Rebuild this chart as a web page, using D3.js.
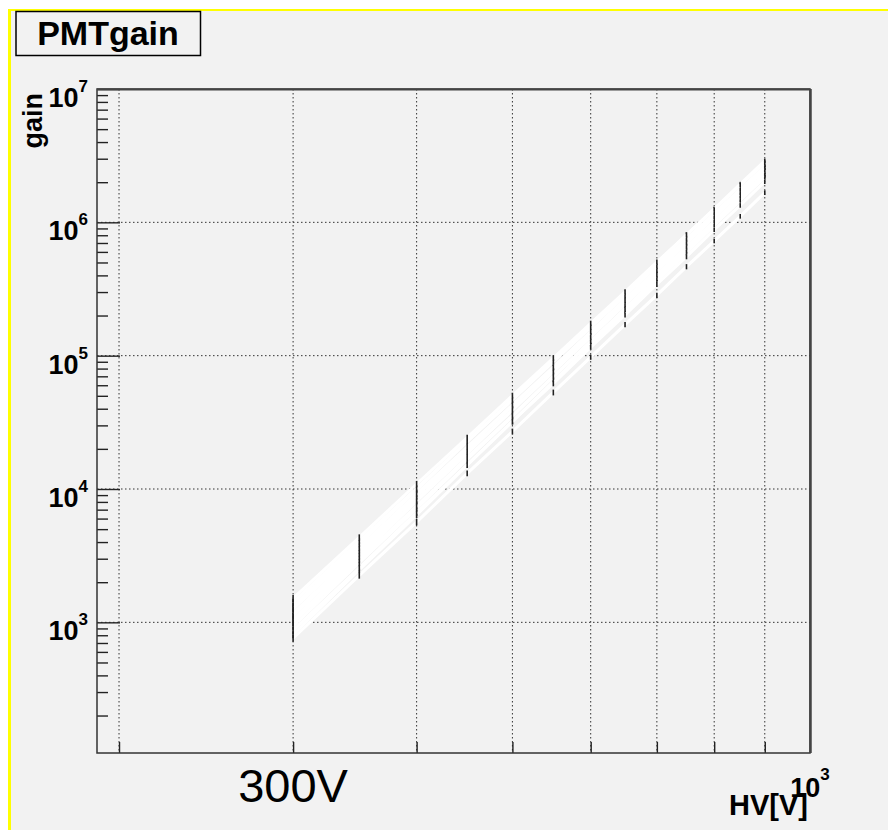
<!DOCTYPE html>
<html>
<head>
<meta charset="utf-8">
<script src="https://cdn.jsdelivr.net/npm/d3@7"></script>
<style>
	body { margin: 0; background: #ffffff; }
	svg { display: block; font-family: 'Liberation Sans', Arial, Helvetica, sans-serif; }
</style>
</head>
<body>
<div id="chart"></div>
<script>
// high voltage settings [V]
const hvValues = [300, 350, 400, 450, 500, 550, 600, 650, 700, 750, 800, 850, 900];

// measured gain per PMT, one value per hvValues entry
const pmt01 = [760, 2250, 5650, 13100, 27000, 53000, 97500, 171000, 284000, 465000, 725000, 1110000, 1670000];
const pmt02 = [810, 2480, 6400, 15100, 32000, 64000, 120000, 212000, 365000, 592000, 950000, 1460000, 2220000];
const pmt03 = [870, 2560, 6650, 15200, 32200, 62000, 116000, 202000, 343000, 553000, 880000, 1340000, 2020000];
const pmt04 = [935, 2800, 7150, 16700, 35000, 69500, 127000, 226000, 381000, 626000, 985000, 1520000, 2270000];
const pmt05 = [1000, 2950, 7450, 17200, 35500, 70000, 128000, 223000, 378000, 607000, 962000, 1470000, 2180000];
const pmt06 = [1050, 3110, 8100, 18500, 39500, 77000, 144000, 252000, 431000, 697000, 1110000, 1700000, 2560000];
const pmt07 = [1120, 3290, 8250, 18900, 39000, 76000, 138000, 243000, 404000, 655000, 1020000, 1565000, 2320000];
const pmt08 = [1170, 3460, 8800, 20000, 42200, 81500, 150000, 264000, 441000, 718000, 1125000, 1725000, 2580000];
const pmt09 = [1260, 3630, 9200, 20600, 42800, 82000, 151000, 260000, 437000, 700000, 1095000, 1660000, 2470000];
const pmt10 = [1320, 3880, 9850, 22600, 47000, 92000, 168000, 296000, 495000, 805000, 1260000, 1935000, 2890000];
const pmt11 = [1410, 4070, 10100, 22800, 46500, 90000, 163000, 282000, 470000, 750000, 1170000, 1765000, 2620000];
const pmt12 = [1510, 4330, 10900, 24300, 50200, 96000, 175000, 301000, 503000, 806000, 1250000, 1900000, 2800000];
const pmtSeries = [pmt01, pmt02, pmt03, pmt04, pmt05, pmt06, pmt07, pmt08, pmt09, pmt10, pmt11, pmt12];

// relative gain error per hvValues entry
const gainRelErrors = [0.06, 0.055, 0.055, 0.05, 0.05, 0.05, 0.045, 0.045, 0.045, 0.045, 0.04, 0.04, 0.04];

// axis ticks
const xTickValues = [200, 300, 400, 500, 600, 700, 800, 900];
const xLabelValues = [1000];
const yMajorValues = [1e3, 1e4, 1e5, 1e6, 1e7];
const yMinorValues = [200, 300, 400, 500, 600, 700, 800, 900,
	2e3, 3e3, 4e3, 5e3, 6e3, 7e3, 8e3, 9e3,
	2e4, 3e4, 4e4, 5e4, 6e4, 7e4, 8e4, 9e4,
	2e5, 3e5, 4e5, 5e5, 6e5, 7e5, 8e5, 9e5,
	2e6, 3e6, 4e6, 5e6, 6e6, 7e6, 8e6, 9e6];
const yGridValues = [1e3, 1e4, 1e5, 1e6];

const titleText = 'PMTgain';
const xTitle = 'HV[V]';
const yTitle = 'gain';
const hvNoteValue = 300;
const hvNoteText = '300V';

class GainVis {
	constructor(parentElement) {
		this.parentElement = parentElement;
		this.initVis();
	}

	initVis() {
		let vis = this;

		vis.width = 888;
		vis.height = 830;
		vis.frame = { left: 97, right: 810, top: 89, bottom: 753 };

		vis.svg = d3.select('#' + vis.parentElement).append('svg').attr('width', vis.width).attr('height', vis.height);

		// canvas background + yellow selection edge
		vis.svg.append('rect').attr('width', vis.width).attr('height', vis.height).attr('fill', '#ffffff');
		vis.svg.append('rect').attr('x', 9).attr('y', 10).attr('width', vis.width - 9).attr('height', vis.height - 10).attr('fill', '#f2f2f2');
		vis.svg.append('line').attr('x1', 9.5).attr('x2', 9.5).attr('y1', 9).attr('y2', vis.height).attr('stroke', '#ffff00').attr('stroke-width', 3);
		vis.svg.append('line').attr('x1', 8).attr('x2', vis.width).attr('y1', 10).attr('y2', 10).attr('stroke', '#ffff00').attr('stroke-width', 2);

		vis.x = d3.scaleLog().domain([190, 1000]).range([vis.frame.left, vis.frame.right]);
		vis.y = d3.scaleLog().domain([Math.pow(10, 2.02), 1e7]).range([vis.frame.bottom, vis.frame.top]);

		vis.wrangleData();
	}

	wrangleData() {
		let vis = this;

		vis.series = pmtSeries.map((gains) =>
			hvValues.map((hv, i) => ({ hv: hv, gain: gains[i], err: gains[i] * gainRelErrors[i] }))
		);

		vis.updateVis();
	}

	updateVis() {
		let vis = this;
		const f = vis.frame;

		// grid
		vis.svg
			.append('g')
			.selectAll('line')
			.data(xTickValues)
			.enter()
			.append('line')
			.attr('x1', (d) => vis.x(d))
			.attr('x2', (d) => vis.x(d))
			.attr('y1', f.top)
			.attr('y2', f.bottom)
			.attr('stroke', '#333')
			.attr('stroke-dasharray', '1.5,2.5');

		vis.svg
			.append('g')
			.selectAll('line')
			.data(yGridValues)
			.enter()
			.append('line')
			.attr('x1', f.left)
			.attr('x2', f.right)
			.attr('y1', (d) => vis.y(d))
			.attr('y2', (d) => vis.y(d))
			.attr('stroke', '#333')
			.attr('stroke-dasharray', '1.5,2.5');

		// one white curve + black error bars per PMT, drawn in order
		let line = d3
			.line()
			.x((d) => vis.x(d.hv))
			.y((d) => vis.y(d.gain));

		vis.series.forEach((points) => {
			let g = vis.svg.append('g').attr('class', 'pmt');
			g.append('path').datum(points).attr('d', line).attr('fill', 'none').attr('stroke', '#ffffff').attr('stroke-width', 3);
			g.selectAll('.err')
				.data(points)
				.enter()
				.append('line')
				.attr('class', 'err')
				.attr('x1', (d) => vis.x(d.hv))
				.attr('x2', (d) => vis.x(d.hv))
				.attr('y1', (d) => vis.y(d.gain - d.err))
				.attr('y2', (d) => vis.y(d.gain + d.err))
				.attr('stroke', '#222')
				.attr('stroke-width', 1.6);
		});

		// axes (ticks inward, ROOT style)
		vis.svg
			.append('g')
			.attr('transform', `translate(${f.left},0)`)
			.call(d3.axisLeft(vis.y).tickValues(yMinorValues).tickSize(-11).tickFormat(''))
			.call((g) => g.select('.domain').remove())
			.call((g) => g.selectAll('line').attr('stroke', '#222').attr('stroke-width', 1.4));

		vis.svg
			.append('g')
			.attr('transform', `translate(${f.left},0)`)
			.call(d3.axisLeft(vis.y).tickValues(yMajorValues).tickSize(-23).tickFormat(''))
			.call((g) => g.select('.domain').remove())
			.call((g) => g.selectAll('line').attr('stroke', '#222').attr('stroke-width', 1.4));

		vis.svg
			.append('g')
			.attr('transform', `translate(0,${f.bottom})`)
			.call(d3.axisBottom(vis.x).tickValues(xTickValues).tickSize(-11).tickFormat(''))
			.call((g) => g.select('.domain').remove())
			.call((g) => g.selectAll('line').attr('stroke', '#222').attr('stroke-width', 1.4));

		// frame
		vis.svg
			.append('rect')
			.attr('x', f.left)
			.attr('y', f.top)
			.attr('width', f.right - f.left)
			.attr('height', f.bottom - f.top)
			.attr('fill', 'none')
			.attr('stroke', '#333')
			.attr('stroke-width', 1.5);
		vis.svg.append('line').attr('x1', f.left).attr('x2', f.right).attr('y1', f.top + 0.5).attr('y2', f.top + 0.5).attr('stroke', '#444').attr('stroke-width', 2);
		vis.svg.append('line').attr('x1', f.right + 0.5).attr('x2', f.right + 0.5).attr('y1', f.top).attr('y2', f.bottom).attr('stroke', '#444').attr('stroke-width', 2.5);

		// y tick labels 10^n
		let yLabels = vis.svg
			.append('g')
			.selectAll('text')
			.data(yMajorValues)
			.enter()
			.append('text')
			.attr('x', 88)
			.attr('y', (d) => vis.y(d) + 18)
			.attr('text-anchor', 'end')
			.attr('font-weight', 'bold')
			.attr('fill', '#000');
		yLabels.append('tspan').attr('font-size', 27).text('10');
		yLabels
			.append('tspan')
			.attr('font-size', 17)
			.attr('dy', -15)
			.text((d) => Math.round(Math.log10(d)));

		// x tick label 10^3
		let xLabels = vis.svg
			.append('g')
			.selectAll('text')
			.data(xLabelValues)
			.enter()
			.append('text')
			.attr('x', (d) => vis.x(d))
			.attr('y', 797)
			.attr('text-anchor', 'middle')
			.attr('font-weight', 'bold')
			.attr('fill', '#000');
		xLabels.append('tspan').attr('font-size', 27).text('10');
		xLabels
			.append('tspan')
			.attr('font-size', 17)
			.attr('dy', -17)
			.text((d) => Math.round(Math.log10(d)));

		// axis titles
		vis.svg
			.append('text')
			.attr('x', f.right - 2)
			.attr('y', 815)
			.attr('text-anchor', 'end')
			.attr('font-size', 29)
			.attr('font-weight', 'bold')
			.text(xTitle);

		vis.svg
			.append('text')
			.attr('transform', `translate(42, ${f.top + 4}) rotate(-90)`)
			.attr('text-anchor', 'end')
			.attr('font-size', 27)
			.attr('font-weight', 'bold')
			.text(yTitle);

		// HV note under the 300 V grid line
		vis.svg
			.append('text')
			.attr('x', vis.x(hvNoteValue))
			.attr('y', 802)
			.attr('text-anchor', 'middle')
			.attr('font-size', 47)
			.text(hvNoteText);

		// title box
		vis.svg
			.append('rect')
			.attr('x', 16)
			.attr('y', 11.5)
			.attr('width', 184.5)
			.attr('height', 44)
			.attr('fill', '#f2f2f2')
			.attr('stroke', '#000')
			.attr('stroke-width', 1.5);
		vis.svg
			.append('text')
			.attr('x', 108)
			.attr('y', 45)
			.attr('text-anchor', 'middle')
			.attr('font-size', 34)
			.attr('font-weight', 'bold')
			.text(titleText);
	}
}

new GainVis('chart');
</script>
</body>
</html>
